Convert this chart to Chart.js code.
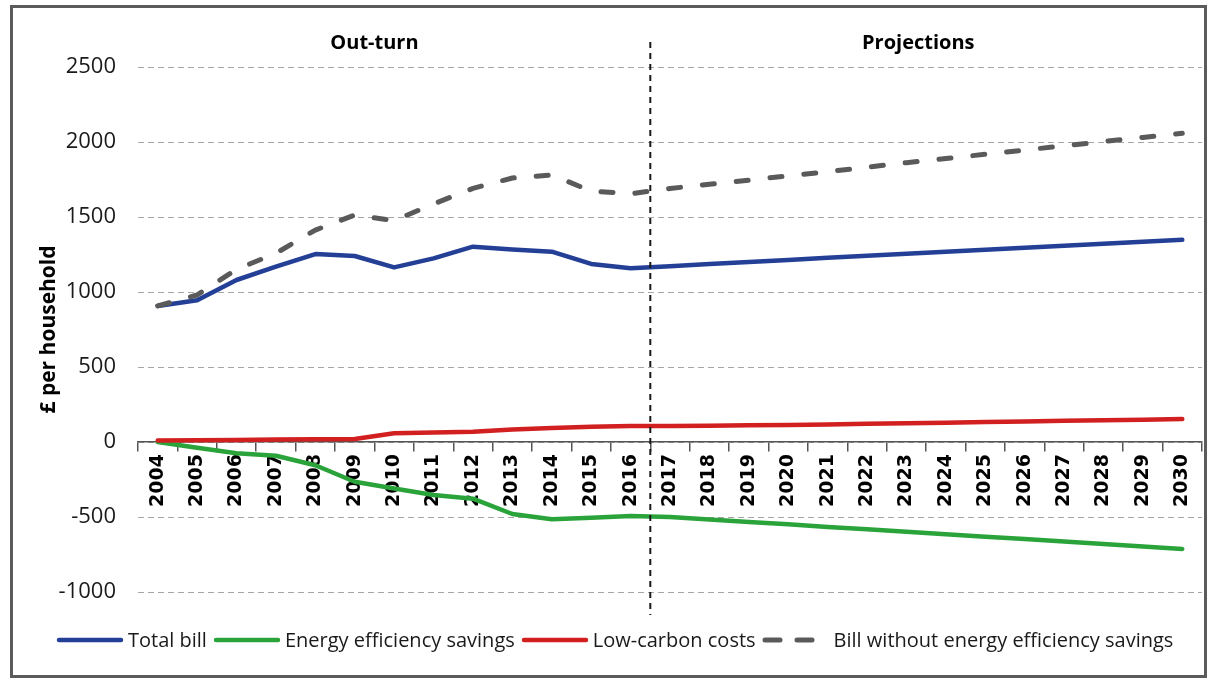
<!DOCTYPE html>
<html>
<head>
<meta charset="utf-8">
<script src="https://cdn.jsdelivr.net/npm/chart.js@4.4.0/dist/chart.umd.min.js"></script>
<style>
  body { margin: 0; background: #fff; font-family: "Open Sans", sans-serif; }
  #wrap { position: relative; width: 1209px; height: 679px; overflow: hidden; }
  #frame { position: absolute; left: 10px; top: 5px; width: 1197px; height: 673px; border: 3px solid #5b5b5b; box-sizing: border-box; pointer-events: none; }
  #chart { position: absolute; left: 0; top: 0; }
  #legend { position: absolute; left: 56px; top: 626px; display: flex; align-items: center; font-size: 20px; color: #1a1a1a; white-space: nowrap; }
  #legend .item { display: flex; align-items: center; margin-right: 6px; }
  #legend svg { margin-right: 4px; }
</style>
</head>
<body>
<div id="wrap">
  <canvas id="chart" width="1209" height="679"></canvas>
  <div id="legend"></div>
  <div id="frame"></div>
</div>
<script>
let years = ["2004", "2005", "2006", "2007", "2008", "2009", "2010", "2011", "2012", "2013", "2014", "2015", "2016",
             "2017", "2018", "2019", "2020", "2021", "2022", "2023", "2024", "2025", "2026", "2027", "2028", "2029", "2030"];

let totalBill = [907, 945, 1080, 1169, 1253, 1240, 1164, 1224, 1302, 1284, 1269, 1187, 1158,
                 1172, 1186, 1200, 1214, 1228, 1241, 1255, 1268, 1282, 1295, 1309, 1322, 1335, 1348];

let efficiencySavings = [0, -38, -75, -92, -155, -265, -310, -353, -378, -480, -515, -505, -493,
                         -500, -516, -533, -549, -566, -582, -598, -615, -631, -647, -664, -680, -697, -713];

let lowCarbonCosts = [10, 12, 14, 16, 18, 20, 58, 64, 69, 84, 93, 102, 107,
                      107, 109, 111, 113, 117, 121, 125, 129, 133, 137, 141, 145, 149, 153];

let billWithoutSavings = [907, 980, 1151, 1258, 1413, 1513, 1476, 1587, 1691, 1760, 1780, 1673, 1655,
                          1690, 1718, 1746, 1774, 1802, 1832, 1862, 1890, 1918, 1946, 1975, 2003, 2030, 2058];

let yTicks = [-1000, -500, 0, 500, 1000, 1500, 2000, 2500];
let lastOutturn = "2016";
let sectionLabels = ["Out-turn", "Projections"];

function line(label, data, color, order, dash) {
    return {
        label: label,
        data: data,
        borderColor: color,
        backgroundColor: color,
        borderWidth: dash ? 5 : 4.5,
        borderDash: dash || [],
        borderCapStyle: "round",
        borderJoinStyle: "round",
        pointRadius: 0,
        tension: 0,
        order: order
    };
}

// dashed divider between out-turn and projections, plus the two headings
let sections = {
    id: "sections",
    afterDraw(chart) {
        let ctx = chart.ctx;
        let x = chart.scales.x;
        let i = years.indexOf(lastOutturn);
        let divX = (x.getPixelForValue(i) + x.getPixelForValue(i + 1)) / 2;

        ctx.save();
        ctx.strokeStyle = "#1a1a1a";
        ctx.lineWidth = 2;
        ctx.setLineDash([6, 5]);
        ctx.beginPath();
        ctx.moveTo(divX, 42);
        ctx.lineTo(divX, 615);
        ctx.stroke();

        ctx.setLineDash([]);
        ctx.fillStyle = "#000";
        ctx.font = "bold 20px 'Open Sans'";
        ctx.textAlign = "center";
        ctx.textBaseline = "middle";
        ctx.fillText(sectionLabels[0], x.getPixelForValue(5.5), 43);
        ctx.fillText(sectionLabels[1], x.getPixelForValue(19.3), 43);
        ctx.restore();
    }
};

let chart = new Chart(document.getElementById("chart"), {
    type: "line",
    data: {
        labels: years,
        datasets: [
            line("Total bill", totalBill, "#243f96", 2),
            line("Energy efficiency savings", efficiencySavings, "#2ba33b", 3),
            line("Low-carbon costs", lowCarbonCosts, "#d21f1f", 1),
            line("Bill without energy efficiency savings", billWithoutSavings, "#5a5a5a", 0, [12, 22])
        ]
    },
    options: {
        responsive: false,
        animation: false,
        layout: { padding: { left: 30, top: 67, right: 7, bottom: 87 } },
        plugins: {
            legend: { display: false },
            tooltip: { enabled: false }
        },
        scales: {
            x: {
                position: { y: 0 },
                offset: true,
                grid: { offset: true, drawOnChartArea: false, drawTicks: true, tickLength: 9, color: "#555", lineWidth: 1.5 },
                border: { display: true, color: "#555", width: 1.5 },
                ticks: {
                    autoSkip: false,
                    maxRotation: 90,
                    minRotation: 90,
                    padding: 3,
                    color: "#000",
                    font: { family: "DejaVu Sans", weight: "bold", size: 19 }
                }
            },
            y: {
                min: yTicks[0],
                max: yTicks[yTicks.length - 1],
                afterFit(scale) { scale.width = 108; },
                afterBuildTicks(scale) { scale.ticks = yTicks.map(v => ({ value: v })); },
                grid: { drawTicks: false, color: "#a6a6a6", lineWidth: 1 },
                border: { display: false, dash: [6, 4] },
                ticks: {
                    padding: 22,
                    color: "#1a1a1a",
                    font: { family: "Open Sans", size: 22 },
                    callback: v => String(v)
                },
                title: {
                    display: true,
                    text: "£ per household",
                    color: "#000",
                    padding: { top: 6, bottom: 0 },
                    font: { family: "Open Sans", weight: "bold", size: 21 }
                }
            }
        }
    },
    plugins: [sections]
});

// legend, built from the datasets
let legend = document.getElementById("legend");
chart.data.datasets.forEach(ds => {
    let item = document.createElement("div");
    item.className = "item";
    let dash = ds.borderDash.length ? 'stroke-dasharray="15 17"' : "";
    item.innerHTML =
        `<svg width="68" height="8"><line x1="3" y1="4" x2="65" y2="4" stroke="${ds.borderColor}" stroke-width="${ds.borderWidth}" stroke-linecap="round" ${dash}/></svg>` +
        `<span>${ds.label}</span>`;
    legend.appendChild(item);
});
</script>
</body>
</html>
